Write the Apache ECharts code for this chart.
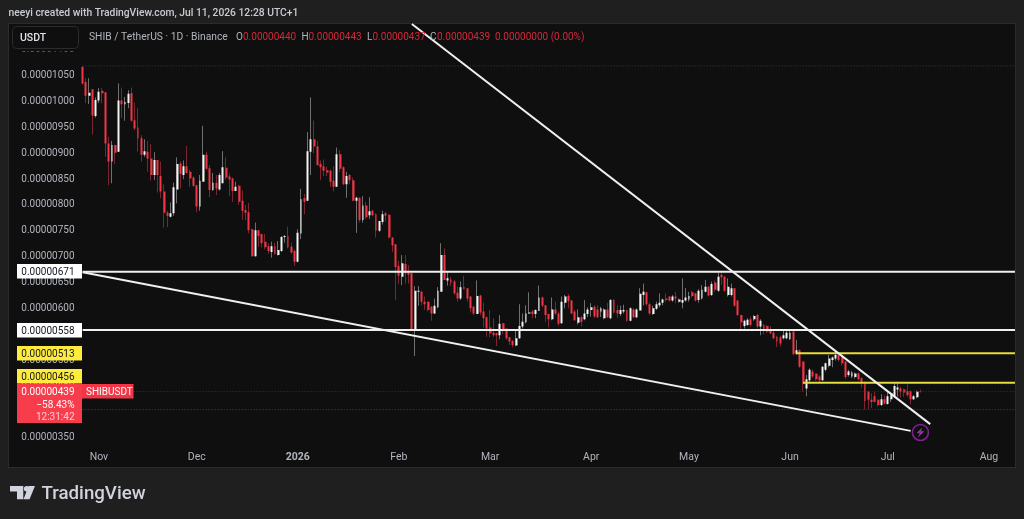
<!DOCTYPE html>
<html>
<head>
<meta charset="utf-8">
<title>SHIB / TetherUS 1D</title>
<script src="https://cdn.jsdelivr.net/npm/echarts@6/dist/echarts.min.js"></script>
<style>
  html, body { margin: 0; padding: 0; background: #1f1f1f; width: 1024px; height: 519px; overflow: hidden; }
  #panel { position: absolute; left: 8px; top: 23px; width: 1006px; height: 443px; background: #0f0f0f; border: 1px solid #2b2b2b; }
  #chart { position: absolute; left: 0; top: 0; width: 1024px; height: 519px; }
</style>
</head>
<body>
<div id="panel"></div>
<div id="chart"></div>
<script>
// Daily SHIB/USDT candles, prices in units of 0.00000001 USDT: [open, close, low, high]
const firstSession = '2025-10-27';
const sessionsOnAxis = 287;
const ohlc = [
  [1067,1035,1033,1069],[1038,1011,997,1045],[1011,1017,995,1045],[1024,973,936,1024],[972,1003,969,1008],
  [1002,1019,997,1026],[1021,1016,997,1026],[1018,919,893,1018],[919,884,838,932],[884,916,842,924],
  [916,901,879,916],[903,1002,903,1035],[1002,995,968,1027],[995,999,963,1009],[997,1015,987,1022],
  [1016,963,961,1027],[964,948,945,998],[950,929,903,987],[929,897,884,935],[897,904,893,927],
  [903,890,864,924],[890,858,847,918],[858,887,848,902],[887,858,824,887],[856,826,813,884],
  [826,785,756,840],[785,779,757,789],[777,784,776,805],[784,834,779,843],[830,879,803,892],
  [880,860,832,884],[858,875,850,886],[875,862,861,914],[864,851,835,868],[853,837,835,855],
  [838,797,786,838],[797,847,789,858],[845,897,845,953],[897,870,868,903],[871,829,815,877],
  [829,843,827,862],[843,832,819,858],[830,858,828,862],[842,873,842,904],[872,853,849,892],
  [855,849,817,861],[851,827,806,853],[827,835,827,845],[837,806,800,839],[808,789,771,828],
  [790,785,770,800],[786,751,745,804],[753,701,700,754],[701,751,700,766],[751,740,719,751],
  [744,726,718,744],[729,718,714,744],[720,711,705,726],[709,720,698,729],[720,705,704,727],
  [703,713,702,730],[711,738,709,740],[738,740,727,742],[740,718,716,758],[719,708,706,727],
  [711,690,682,714],[690,746,689,753],[745,811,734,831],[813,806,782,821],[808,904,808,941],
  [903,927,858,1008],[927,913,900,963],[913,877,877,924],[879,873,848,886],[875,866,856,888],
  [867,863,856,874],[866,845,835,869],[847,835,826,875],[835,898,835,911],[898,870,864,906],
  [873,840,838,875],[840,856,814,864],[858,848,840,860],[848,808,807,853],[808,814,746,816],
  [814,771,766,815],[771,799,766,817],[799,776,773,806],[780,788,773,815],[789,780,778,791],
  [782,750,737,784],[750,769,748,769],[767,782,762,789],[784,779,768,787],[781,737,735,782],
  [737,722,709,738],[724,680,616,724],[682,663,647,692],[661,687,645,703],[686,668,648,703],
  [669,665,648,684],[668,559,559,668],[559,634,508,643],[632,634,605,643],[632,613,606,634],
  [613,608,597,623],[613,597,594,613],[603,590,576,605],[590,605,589,619],[602,634,600,641],
  [632,703,632,726],[703,655,655,716],[654,658,644,671],[656,650,643,661],[652,629,626,655],
  [630,619,613,642],[619,641,616,652],[642,637,637,663],[639,619,613,639],[623,600,592,623],
  [603,590,587,605],[589,624,589,654],[625,592,587,626],[594,581,563,611],[583,561,545,584],
  [563,552,544,597],[553,548,545,581],[552,548,527,553],[548,570,540,587],[571,559,550,572],
  [561,542,539,561],[544,536,529,544],[537,529,525,539],[528,542,527,557],[542,566,541,608],
  [565,574,561,590],[573,590,571,606],[590,592,589,631],[594,589,581,597],[589,597,581,598],
  [595,621,595,644],[621,605,602,623],[606,587,574,606],[589,579,563,590],[579,598,577,621],
  [598,590,587,613],[590,570,566,594],[571,613,570,623],[611,623,600,626],[624,614,600,628],
  [615,590,589,616],[594,577,576,597],[572,583,569,598],[583,574,565,585],[579,590,577,616],
  [589,598,583,602],[597,602,584,610],[603,584,581,606],[598,583,581,606],[594,600,583,603],
  [581,598,579,600],[598,583,581,611],[581,616,579,618],[616,592,590,618],[597,590,581,606],
  [589,597,585,605],[594,597,590,607],[597,576,574,597],[576,600,575,602],[598,583,581,600],
  [583,598,581,600],[596,628,596,639],[626,632,606,648],[631,608,605,632],[608,590,587,611],
  [589,600,587,605],[599,608,597,613],[606,611,602,629],[611,617,606,619],[619,616,613,629],
  [623,615,613,624],[615,623,613,626],[623,619,610,632],[613,617,611,619],[611,616,600,658],
  [615,621,613,639],[617,624,613,632],[631,624,621,634],[629,615,613,630],[616,634,611,637],
  [619,636,617,645],[632,642,631,655],[642,625,623,643],[626,647,624,652],[650,636,632,654],
  [634,661,632,669],[665,660,645,669],[661,634,632,663],[626,642,623,658],[626,639,623,648],
  [639,605,603,639],[615,587,585,615],[587,573,559,587],[566,576,561,578],[568,578,566,581],
  [579,568,565,584],[579,585,576,587],[587,565,561,590],[565,576,548,579],[568,558,550,570],
  [566,555,552,568],[559,552,550,566],[553,542,540,557],[545,536,525,547],[544,532,526,547],
  [542,548,540,557],[542,553,540,557],[540,553,539,557],[555,511,510,555],[512,519,510,539],
  [519,487,485,521],[497,454,439,497],[445,463,430,471],[461,481,456,484],[478,468,465,482],
  [474,463,460,474],[468,461,456,471],[461,487,460,488],[481,494,478,495],[489,503,486,510],
  [500,505,486,507],[503,510,499,518],[510,500,497,510],[507,494,490,508],[497,467,463,497],
  [471,478,468,481],[468,476,465,479],[467,474,464,476],[474,463,461,476],[465,456,447,467],
  [458,421,404,458],[439,423,405,440],[423,419,407,436],[430,419,418,439],[423,413,410,424],
  [413,424,411,434],[424,416,414,432],[415,430,414,439],[424,436,419,437],[429,450,428,456],
  [443,447,429,458],[445,439,428,449],[443,437,429,445],[440,432,429,454],[440,424,414,441],
  [424,430,423,432],[428,439,426,441],[440,439,437,443]
];

// Month captions under the candles
const monthTicks = {
  '2025-11-01': 'Nov', '2025-12-01': 'Dec', '2026-01-01': '2026', '2026-02-01': 'Feb',
  '2026-03-01': 'Mar', '2026-04-01': 'Apr', '2026-05-01': 'May', '2026-06-01': 'Jun',
  '2026-07-01': 'Jul', '2026-08-01': 'Aug'
};

// Drawn price levels and trend lines
const whiteLevels = [671, 558];
const yellowLevels = [513, 456];
const yellowLevelStart = { 513: 219, 456: 221 };
const sessionHigh = 1069, sessionLow = 404, lastPrice = 439;
const upperTrend = [[101, 1150], [260, 376]];
const lowerTrend = [[0, 670], [254, 363]];
const alertMarker = [257, 360];

const categories = [];
for (let i = 0, d = new Date(firstSession + 'T00:00:00Z'); i < sessionsOnAxis; i++) {
  categories.push(d.toISOString().slice(0, 10));
  d.setUTCDate(d.getUTCDate() + 1);
}
const lastIndex = sessionsOnAxis - 1;
const at = (pts) => pts.map(p => [categories[p[0]], p[1]]);
const segment = (pts, color, width, type) => ({
  type: 'line', data: at(pts), showSymbol: false, silent: true, z: 5,
  lineStyle: { color, width, type: type || 'solid', cap: 'butt' }
});

const FONT = 'Roboto, "Liberation Sans", sans-serif';
const RED = '#f23645', BG = '#0f0f0f', TXT = '#b2b5be';
const price = v => (v / 1e8).toFixed(8);

const chart = echarts.init(document.getElementById('chart'), null, { renderer: 'canvas' });
chart.setOption({
  animation: false,
  backgroundColor: 'transparent',
  textStyle: { fontFamily: FONT },
  grid: { left: 81, top: 24, width: 935.6, height: 439.45, containLabel: false },
  xAxis: {
    type: 'category', data: categories, boundaryGap: true,
    axisLine: { show: false }, axisTick: { show: false }, splitLine: { show: false },
    axisLabel: {
      inside: true, margin: 0.5, color: TXT, fontSize: 10.5, fontFamily: FONT, hideOverlap: false,
      interval: (i, v) => v in monthTicks,
      formatter: v => v === '2026-01-01' ? '{y|' + monthTicks[v] + '}' : (monthTicks[v] || ''),
      rich: { y: { fontWeight: 'bold', color: TXT, fontSize: 10.5, fontFamily: FONT } }
    }
  },
  yAxis: {
    type: 'value', min: 300, max: 1150, interval: 50, position: 'left',
    axisLine: { show: false }, axisTick: { show: false }, splitLine: { show: false },
    axisLabel: {
      color: TXT, fontSize: 10, fontFamily: FONT, margin: 6.5, showMinLabel: false, showMaxLabel: false,
      padding: [3, 0, 0, 0],
      formatter: v => price(v)
    }
  },
  series: [
    segment([[0, sessionHigh], [lastIndex, sessionHigh]], '#3d3d3d', 1, [1, 2]),
    segment([[0, sessionLow], [lastIndex, sessionLow]], '#4a4a4a', 1, [1, 2]),
    segment([[0, lastPrice], [lastIndex, lastPrice]], '#6a222b', 1, [1, 2]),
    {
      // Wicks, drawn thin and dimmed beneath the bodies
      type: 'candlestick', data: ohlc, barWidth: 1, silent: true, z: 2,
      itemStyle: { color: '#707070', color0: '#7a2530', borderColor: '#707070', borderColor0: '#7a2530', borderWidth: 1 }
    },
    {
      // Bright bodies over the same sessions
      type: 'candlestick', data: ohlc, barWidth: 2.4, silent: true, z: 3,
      itemStyle: { color: '#f4f4f4', color0: RED, borderColor: '#f4f4f4', borderColor0: RED, borderWidth: 0 }
    },
    ...whiteLevels.map(v => segment([[0, v], [lastIndex, v]], '#f0f0f0', 2)),
    ...yellowLevels.map(v => segment([[yellowLevelStart[v], v], [lastIndex, v]], '#e6dc3a', 2)),
    segment(upperTrend, '#f0f0f0', 2),
    segment(lowerTrend, '#f0f0f0', 2),
    {
      type: 'scatter', silent: true, z: 8, data: at([alertMarker]), symbol: 'circle', symbolSize: 16,
      itemStyle: { color: BG, borderColor: '#9c27b0', borderWidth: 1.6 }
    },
    {
      type: 'scatter', silent: true, z: 9, data: at([alertMarker]),
      symbol: 'path://M7 0 L0 7 L4 7 L2 12 L10 4.6 L6 4.6 Z', symbolSize: [8, 10],
      itemStyle: { color: '#b13cc6' }
    }
  ]
});

// Price tags and captions depend on the y scale, so they are added once it exists
const py = v => chart.convertToPixel({ yAxisIndex: 0 }, v);
const label = (x, y, text, fill, font, textAlign) => ({
  type: 'text', z: 101, style: { x, y: y + 1, text, fill, font: font + ' ' + FONT, textAlign: textAlign || 'left', textVerticalAlign: 'middle' }
});
const tag = (cy, text, fill, color) => ([
  { type: 'rect', z: 100, shape: { x: 17, y: Math.round(cy - 7.3), width: 65, height: 14.6 }, style: { fill } },
  label(74.5, cy, text, color, '10px', 'right')
]);
const ly = py(lastPrice);
const legendRed = '#d4283a';
const elements = [
  // Covers the upper part of the axis strip, under the currency button
  { type: 'rect', z: 90, shape: { x: 9, y: 24, width: 72, height: 27.5 }, style: { fill: BG } },
  { type: 'rect', z: 91, shape: { x: 12.5, y: 26.5, width: 66, height: 22, r: 4 }, style: { fill: BG, stroke: '#2b2b2b', lineWidth: 1 } },
  label(20, 37, 'USDT', '#e0e3eb', '500 10.5px'),
  label(8.5, 12.5, 'neeyi created with TradingView.com, Jul 11, 2026 12:28 UTC+1', '#c9ccd4', '500 10.3px'),
  label(89, 36, 'SHIB / TetherUS · 1D · Binance', TXT, '10.3px'),
  label(236, 36, 'O', TXT, '10px'), label(243, 36, '0.00000440', legendRed, '10px'),
  label(301.5, 36, 'H', TXT, '10px'), label(308.5, 36, '0.00000443', legendRed, '10px'),
  label(367, 36, 'L', TXT, '10px'), label(372.5, 36, '0.00000437', legendRed, '10px'),
  label(430, 36, 'C', TXT, '10px'), label(437, 36, '0.00000439', legendRed, '10px'),
  label(495, 36, '0.00000000 (0.00%)', legendRed, '10px'),
  ...tag(py(whiteLevels[0]), price(whiteLevels[0]), '#ffffff', '#131722'),
  ...tag(py(whiteLevels[1]), price(whiteLevels[1]), '#ffffff', '#131722'),
  ...tag(py(yellowLevels[0]), price(yellowLevels[0]), '#ffeb3b', '#131722'),
  ...tag(py(yellowLevels[1]) - 6, price(yellowLevels[1]), '#ffeb3b', '#131722'),
  { type: 'rect', z: 100, shape: { x: 17, y: Math.round(ly - 7.3), width: 65, height: 39 }, style: { fill: '#f73c4c' } },
  label(74.5, ly, price(lastPrice), '#ffffff', '10px', 'right'),
  label(74.5, ly + 12.6, '−58.43%', '#ffffff', '10px', 'right'),
  label(74.5, ly + 25, '12:31:42', '#fbd0d4', '10px', 'right'),
  { type: 'rect', z: 100, shape: { x: 82, y: Math.round(ly - 7.3), width: 51.5, height: 14.6 }, style: { fill: '#f23645' } },
  label(86, ly, 'SHIBUSDT', '#ffffff', '10px'),
  // TradingView wordmark and its icon in the footer
  { type: 'polygon', z: 92, shape: { points: [[10, 486], [23.3, 486], [23.3, 499.3], [17, 499.3], [17, 491.6], [10, 491.6]] }, style: { fill: '#d1d4dc' } },
  { type: 'circle', z: 92, shape: { cx: 26.6, cy: 488.7, r: 2.7 }, style: { fill: '#d1d4dc' } },
  { type: 'polygon', z: 92, shape: { points: [[28.5, 486], [35, 486], [29.5, 499.3], [23.5, 499.3]] }, style: { fill: '#d1d4dc' } },
  label(41.5, 493, 'TradingView', '#d1d4dc', '500 18.7px')
];
chart.setOption({ graphic: { elements } });
</script>
</body>
</html>
